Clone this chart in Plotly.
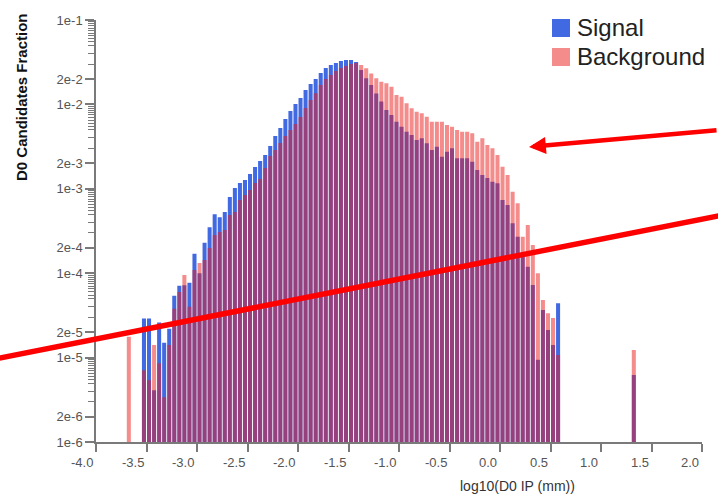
import plotly.graph_objects as go

# ---- histogram data: D0 impact parameter, 0.05-wide bins in log10(IP/mm) ----
BIN_WIDTH = 0.05
FIRST_EDGE = -3.55  # left edge of the first populated bin of the main block

signal = [
    2.9e-5, 2.9e-5, 4.1e-6, 2.6e-5, 1.5e-5, 2.2e-5, 5.4e-5, 7.1e-5, 7.2e-5, 7.7e-5,
    1.7e-4, 1.0e-4, 2.3e-4, 3.5e-4, 5.0e-4, 4.6e-4, 5.3e-4, 8.0e-4, 1.02e-3, 1.17e-3,
    1.27e-3, 1.50e-3, 1.81e-3, 2.13e-3, 2.51e-3, 3.21e-3, 4.23e-3, 5.25e-3, 6.71e-3, 8.36e-3,
    1.01e-2, 1.19e-2, 1.48e-2, 1.75e-2, 2.00e-2, 2.36e-2, 2.70e-2, 2.93e-2, 3.10e-2, 3.27e-2,
    3.36e-2, 3.36e-2, 3.18e-2, 2.56e-2, 2.04e-2, 1.70e-2, 1.35e-2, 1.08e-2, 8.59e-3, 7.48e-3,
    6.24e-3, 5.44e-3, 4.75e-3, 4.34e-3, 3.78e-3, 3.96e-3, 3.46e-3, 2.88e-3, 3.15e-3, 2.40e-3,
    2.75e-3, 3.02e-3, 2.30e-3, 2.30e-3, 2.30e-3, 2.09e-3, 1.67e-3, 1.46e-3, 1.34e-3, 1.21e-3,
    1.16e-3, 7.37e-4, 6.43e-4, 3.90e-4, 2.70e-4, 1.73e-4, 1.19e-4, 7.24e-5, 9.4e-6, 3.66e-5,
    2.12e-5, 1.41e-5, 4.40e-5,
]

background = [
    7.1e-6, 5.4e-6, 1.41e-5, 8.6e-6, 3.4e-6, 1.41e-5, 3.8e-5, 6.0e-5, 9.5e-5, 4.0e-5,
    1.09e-4, 1.32e-4, 1.43e-4, 1.99e-4, 2.84e-4, 3.08e-4, 3.25e-4, 4.90e-4, 5.31e-4, 7.37e-4,
    8.45e-4, 9.68e-4, 1.17e-3, 1.31e-3, 1.76e-3, 2.45e-3, 2.88e-3, 3.49e-3, 4.23e-3, 4.98e-3,
    5.86e-3, 7.10e-3, 9.06e-3, 1.13e-2, 1.36e-2, 1.70e-2, 2.00e-2, 2.23e-2, 2.49e-2, 2.70e-2,
    2.85e-2, 3.01e-2, 3.10e-2, 2.93e-2, 2.68e-2, 2.33e-2, 2.04e-2, 1.86e-2, 1.78e-2, 1.62e-2,
    1.29e-2, 1.23e-2, 1.03e-2, 9.0e-3, 8.2e-3, 7.85e-3, 7.15e-3, 6.24e-3, 6.24e-3, 6.24e-3,
    5.70e-3, 5.44e-3, 4.98e-3, 4.75e-3, 4.75e-3, 4.55e-3, 3.61e-3, 3.96e-3, 3.30e-3, 3.02e-3,
    2.51e-3, 1.83e-3, 1.46e-3, 9.25e-4, 6.73e-4, 2.70e-4, 3.72e-4, 2.16e-4, 9.98e-5, 4.81e-5,
    3.35e-5, 2.94e-5, 1.07e-5,
]

# isolated bins away from the main block
extra_centres = [-3.675, 1.325]
extra_signal = [None, 6.2e-6]
extra_background = [1.77e-5, 1.23e-5]

x_tick_vals = [-4.0, -3.5, -3.0, -2.5, -2.0, -1.5, -1.0, -0.5, 0.0, 0.5, 1.0, 1.5, 2.0]
x_tick_text = ["-4.0", "-3.5", "-3.0", "-2.5", "-2.0", "-1.5", "-1.0", "-0.5",
               "0.0", "0.5", "1.0", "1.5", "2.0"]
y_tick_vals = [1e-6, 2e-6, 1e-5, 2e-5, 1e-4, 2e-4, 1e-3, 2e-3, 1e-2, 2e-2, 1e-1]
y_tick_text = ["1e-6", "2e-6", "1e-5", "2e-5", "1e-4", "2e-4", "1e-3", "2e-3",
               "1e-2", "2e-2", "1e-1"]
minor_mantissas = [3, 4, 5, 5.5, 6, 6.5, 7, 7.5, 8, 8.5, 9, 9.5]

# ---- geometry ----
W, H = 718, 501
M_L, M_R, M_T, M_B = 96, 16, 20, 59
PW, PH = W - M_L - M_R, H - M_T - M_B


def px_x(p):
    return (p - M_L) / PW


def px_y(p):
    return (H - M_B - p) / PH


BLUE = "rgb(65,105,225)"
RED = "rgba(235,25,25,0.5)"
FONT = "Liberation Sans, Arial, sans-serif"
AXIS_GREY = "#7a7a7a"
TICK_FONT = dict(family=FONT, size=13, color="#555")

centres = [round(FIRST_EDGE + BIN_WIDTH * (i + 0.5), 4) for i in range(len(signal))]
x_all = centres + extra_centres
sig_all = signal + extra_signal
bkg_all = background + extra_background

fig = go.Figure()
fig.add_trace(go.Bar(x=x_all, y=sig_all, name="Signal",
                     marker=dict(color=BLUE, line=dict(width=0)), showlegend=False))
fig.add_trace(go.Bar(x=x_all, y=bkg_all, name="Background",
                     marker=dict(color=RED, line=dict(width=0)), showlegend=False))

minor_vals = [m * 10.0 ** e for e in range(-6, -1) for m in minor_mantissas]

fig.update_layout(
    width=W, height=H,
    margin=dict(l=M_L, r=M_R, t=M_T, b=M_B),
    paper_bgcolor="white", plot_bgcolor="white",
    barmode="overlay", bargap=0.2,
    font=dict(family=FONT),
    xaxis=dict(range=[-4.0, 2.0], showgrid=False, zeroline=False,
               showline=True, linecolor=AXIS_GREY, linewidth=1.5,
               ticks="outside", ticklen=8, tickwidth=1.5, tickcolor=AXIS_GREY,
               tickmode="array", tickvals=x_tick_vals, showticklabels=False),
    yaxis=dict(type="log", range=[-6, -1], showgrid=False, zeroline=False,
               showline=True, linecolor=AXIS_GREY, linewidth=1.5,
               ticks="outside", ticklen=9, tickwidth=1.5, tickcolor=AXIS_GREY,
               tickmode="array", tickvals=y_tick_vals, ticktext=y_tick_text,
               tickfont=TICK_FONT,
               minor=dict(tickmode="array", tickvals=minor_vals, ticks="outside",
                          ticklen=6, tickwidth=1, tickcolor=AXIS_GREY, showgrid=False)),
)

annotations = []
# x tick labels sit just left of their tick marks
for v, t in zip(x_tick_vals, x_tick_text):
    annotations.append(dict(x=v, xref="x", y=0, yref="paper", text=t, showarrow=False,
                            xanchor="right", yanchor="middle", xshift=-1, yshift=-20,
                            font=TICK_FONT))

# axis titles
annotations.append(dict(x=px_x(21), y=px_y(97), xref="paper", yref="paper",
                        text="<b>D0 Candidates Fraction</b>", textangle=-90,
                        showarrow=False, xanchor="center", yanchor="middle",
                        font=dict(family=FONT, size=15, color="#111")))
annotations.append(dict(x=px_x(517), y=px_y(486), xref="paper", yref="paper",
                        text="log10(D0 IP (mm))", showarrow=False,
                        xanchor="center", yanchor="middle",
                        font=dict(family=FONT, size=14, color="#333")))

# legend
annotations.append(dict(x=px_x(575), y=px_y(28), xref="paper", yref="paper",
                        text="Signal", showarrow=False, xanchor="left", yanchor="middle",
                        font=dict(family=FONT, size=24, color="#222")))
annotations.append(dict(x=px_x(575), y=px_y(57), xref="paper", yref="paper",
                        text="Background", showarrow=False, xanchor="left", yanchor="middle",
                        font=dict(family=FONT, size=24, color="#222")))

# red arrow pointing at the background shoulder
annotations.append(dict(x=px_x(529), y=px_y(147), xref="paper", yref="paper",
                        text="", showarrow=True, arrowhead=2, arrowsize=0.75,
                        arrowwidth=4.5, arrowcolor="#ff0000", standoff=0,
                        ax=200, ay=-17, axref="pixel", ayref="pixel"))

shapes = [
    dict(type="rect", xref="paper", yref="paper",
         x0=px_x(552), x1=px_x(570), y0=px_y(37), y1=px_y(19),
         fillcolor=BLUE, line=dict(width=0)),
    dict(type="rect", xref="paper", yref="paper",
         x0=px_x(552), x1=px_x(570), y0=px_y(66), y1=px_y(48),
         fillcolor=RED, line=dict(width=0)),
    # straight red guide line across the figure
    dict(type="line", xref="paper", yref="paper",
         x0=px_x(-10), y0=px_y(360), x1=px_x(728), y1=px_y(214),
         line=dict(color="#ff0000", width=5.5), layer="above"),
]

fig.update_layout(annotations=annotations, shapes=shapes)
fig.write_html("out.html")
